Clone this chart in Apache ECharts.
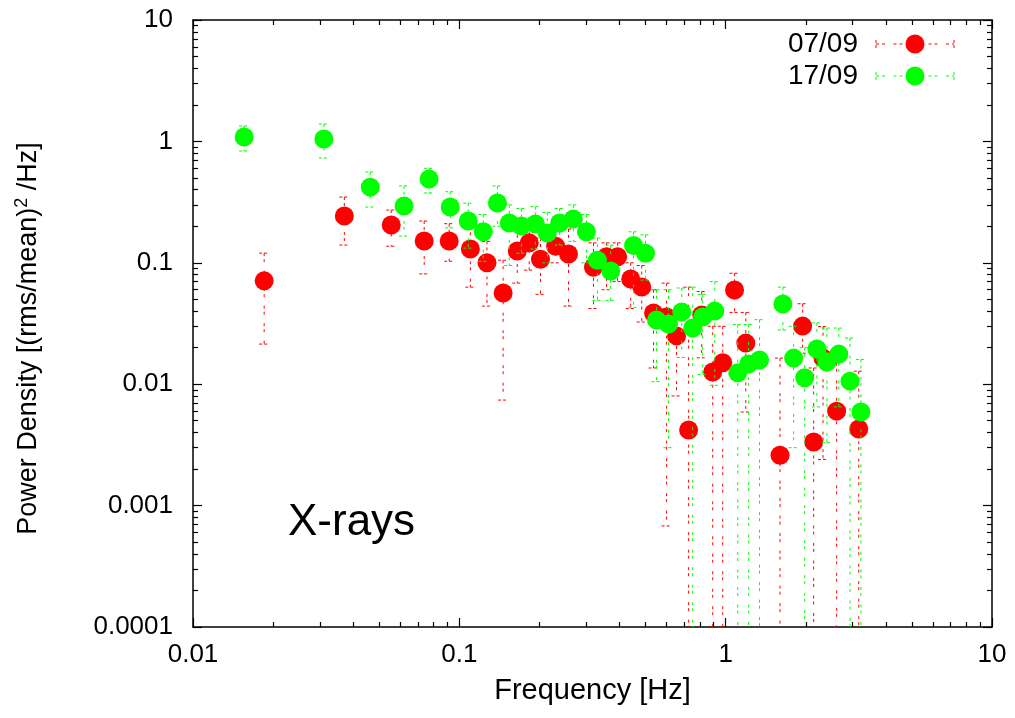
<!DOCTYPE html>
<html>
<head>
<meta charset="utf-8">
<script src="https://cdn.jsdelivr.net/npm/echarts@6/dist/echarts.min.js"></script>
<style>html,body{margin:0;padding:0;background:#fff}#c{width:1015px;height:718px}</style>
</head>
<body>
<div id="c"></div>
<script>
// ---- data ----
const seriesNames = ['07/09', '17/09'];

// 07/09 (red)
const redFreq = [0.0185, 0.037, 0.0555, 0.0738, 0.0916, 0.11, 0.127, 0.146, 0.165, 0.183, 0.2017, 0.23, 0.257, 0.319, 0.357, 0.393, 0.44, 0.484, 0.536, 0.6, 0.654, 0.726, 0.813, 0.894, 0.975, 1.08, 1.19, 1.6, 1.945, 2.14, 2.32, 2.61, 3.16];
const redPow  = [0.071, 0.243, 0.205, 0.151, 0.151, 0.13, 0.1, 0.0564, 0.125, 0.146, 0.107, 0.137, 0.118, 0.092, 0.112, 0.112, 0.0736, 0.0633, 0.0386, 0.0358, 0.025, 0.0042, 0.0371, 0.0126, 0.015, 0.0597, 0.0218, 0.0026, 0.0301, 0.00334, 0.0164, 0.006, 0.00428];
const redLo   = [0.0214, 0.14, 0.137, 0.081, 0.103, 0.063, 0.044, 0.0074, 0.068, 0.087, 0.055, 0.1, 0.044, 0.042, 0.06, 0.07, 0.042, 0.0325, 0.0136, 0.00068, 0.008, 0, 0.0165, 0, 0, 0.039, 0.0059, 0, 0.018, 0, 0.0024, 0, 0];
const redHi   = [0.12, 0.348, 0.272, 0.221, 0.21, 0.2, 0.15, 0.105, 0.19, 0.2, 0.16, 0.19, 0.19, 0.146, 0.146, 0.146, 0.1, 0.095, 0.06, 0.068, 0.04, 0.063, 0.058, 0.03, 0.03, 0.082, 0.039, 0.0164, 0.046, 0.0136, 0.0298, 0.015, 0.0128];

// 17/09 (green)
const greenFreq = [0.01556, 0.031, 0.0463, 0.062, 0.077, 0.0924, 0.108, 0.123, 0.139, 0.154, 0.171, 0.193, 0.214, 0.238, 0.268, 0.3, 0.33, 0.37, 0.451, 0.5, 0.55, 0.61, 0.684, 0.752, 0.82, 0.91, 1.11, 1.22, 1.34, 1.64, 1.8, 1.98, 2.2, 2.4, 2.66, 2.93, 3.22];
const greenPow  = [1.087, 1.047, 0.42, 0.294, 0.49, 0.288, 0.221, 0.18, 0.311, 0.213, 0.201, 0.209, 0.176, 0.213, 0.23, 0.18, 0.105, 0.0855, 0.139, 0.12, 0.0338, 0.0313, 0.0394, 0.029, 0.0358, 0.04, 0.0124, 0.0147, 0.0158, 0.0458, 0.0164, 0.0113, 0.0195, 0.0152, 0.0177, 0.0106, 0.0059];
const greenLo   = [0.834, 0.73, 0.288, 0.166, 0.376, 0.194, 0.132, 0.103, 0.2, 0.095, 0.12, 0.13, 0.1, 0.14, 0.15, 0.1, 0.049, 0.049, 0.043, 0.072, 0.0105, 0.003, 0.0166, 0, 0.012, 0.0098, 0, 0, 0, 0.028, 0.003, 0, 0.0065, 0.0033, 0.0065, 0, 0];
const greenHi   = [1.34, 1.39, 0.56, 0.43, 0.6, 0.385, 0.31, 0.25, 0.43, 0.3, 0.28, 0.29, 0.26, 0.28, 0.3, 0.25, 0.16, 0.14, 0.18, 0.17, 0.06, 0.06, 0.062, 0.063, 0.055, 0.07, 0.031, 0.031, 0.034, 0.063, 0.03, 0.02, 0.032, 0.029, 0.029, 0.024, 0.016];

// axes
const xMin = 0.01, xMax = 10;
const yMin = 0.0001, yMax = 10;
const xMajorTicks = [0.01, 0.1, 1, 10];
const yMajorTicks = [0.0001, 0.001, 0.01, 0.1, 1, 10];
const xTitle = 'Frequency [Hz]';
const yTitle = 'Power Density [(rms/mean){sup|2} /Hz]';
const panelLabel = 'X-rays';

function minorTicks(majors) {
  const out = [];
  for (let i = 0; i < majors.length - 1; i++) {
    for (let k = 2; k <= 9; k++) out.push(+(majors[i] * k).toPrecision(6));
  }
  return out;
}
const xMinorTicks = minorTicks(xMajorTicks);
const yMinorTicks = minorTicks(yMajorTicks);

const FONT = 'Liberation Sans';
const RED = '#ff0000', GREEN = '#00ff00';
const DASH = [3, 3, 3, 8.5];

function zip4(a, b, c, d) { return a.map((v, i) => [v, b[i], c[i], d[i]]); }
function zip2(a, b) { return a.map((v, i) => [v, b[i]]); }

function errRender(color) {
  return function (params, api) {
    const x = api.value(0), lo = api.value(2), hi = api.value(3);
    const top = api.coord([x, hi]);
    const bot = api.coord([x, lo > 0 ? lo : yMin]);
    const ch = [{
      type: 'line', shape: { x1: top[0], y1: top[1], x2: bot[0], y2: bot[1] },
      style: { stroke: color, lineWidth: 1, lineDash: DASH }
    }, {
      type: 'line', shape: { x1: top[0] - 5, y1: top[1], x2: top[0] + 5, y2: top[1] },
      style: { stroke: color, lineWidth: 1, lineDash: [3, 2] }
    }];
    if (lo > 0) ch.push({
      type: 'line', shape: { x1: bot[0] - 5, y1: bot[1], x2: bot[0] + 5, y2: bot[1] },
      style: { stroke: color, lineWidth: 1, lineDash: [3, 2] }
    });
    return { type: 'group', children: ch };
  };
}

const axLine = { show: true, lineStyle: { color: '#000', width: 1.5 } };
const lbl = { color: '#000', fontSize: 26, fontFamily: FONT };

function xAx(pos, major, showLbl) {
  return {
    type: 'log', logBase: 10, min: xMin, max: xMax, position: pos,
    axisLine: major ? axLine : { show: false },
    axisTick: { show: true, inside: true, length: major ? 9 : 5, customValues: major ? xMajorTicks : xMinorTicks, lineStyle: { color: '#000', width: 1.2 } },
    axisLabel: showLbl ? Object.assign({ margin: 15, customValues: xMajorTicks, formatter: v => String(+(+v).toPrecision(6)) }, lbl) : { show: false },
    splitLine: { show: false },
    name: showLbl ? xTitle : '', nameLocation: 'middle', nameGap: 49,
    nameTextStyle: { color: '#000', fontSize: 29, fontFamily: FONT }
  };
}
function yAx(pos, major, showLbl) {
  return {
    type: 'log', logBase: 10, min: yMin, max: yMax, position: pos,
    axisLine: major ? axLine : { show: false },
    axisTick: { show: true, inside: true, length: major ? 9 : 5, customValues: major ? yMajorTicks : yMinorTicks, lineStyle: { color: '#000', width: 1.2 } },
    axisLabel: showLbl ? Object.assign({ margin: 20, customValues: yMajorTicks, formatter: v => String(+(+v).toPrecision(6)) }, lbl) : { show: false },
    splitLine: { show: false },
    name: showLbl ? yTitle : '', nameLocation: 'middle', nameGap: 148,
    nameTextStyle: { color: '#000', fontSize: 27, fontFamily: FONT, padding: [0, 30, 0, 0],
      rich: { sup: { fontSize: 18, fontFamily: FONT, color: '#000', verticalAlign: 'top', padding: [0, 0, 14, 0] } } }
  };
}

const chart = echarts.init(document.getElementById('c'), null, { renderer: 'canvas' });

const legendY = [44, 76];
const legendColors = [RED, GREEN];
const graphics = [];
legendY.forEach((y, i) => {
  graphics.push({ type: 'text', x: 858, y: y, style: { text: seriesNames[i], fill: '#000', font: '28px "' + FONT + '"', textAlign: 'right', textVerticalAlign: 'middle' } });
  graphics.push({ type: 'line', shape: { x1: 876, y1: y, x2: 954, y2: y }, style: { stroke: legendColors[i], lineWidth: 1, lineDash: [3, 3, 3, 8.5] } });
  graphics.push({ type: 'line', shape: { x1: 876, y1: y - 4, x2: 876, y2: y + 4 }, style: { stroke: legendColors[i], lineWidth: 1, lineDash: [3, 2] } });
  graphics.push({ type: 'line', shape: { x1: 954, y1: y - 4, x2: 954, y2: y + 4 }, style: { stroke: legendColors[i], lineWidth: 1, lineDash: [3, 2] } });
  graphics.push({ type: 'circle', shape: { cx: 915, cy: y, r: 9.5 }, style: { fill: legendColors[i] } });
});
graphics.push({ type: 'text', x: 288, y: 523, style: { text: panelLabel, fill: '#000', font: '44px "' + FONT + '"', textAlign: 'left', textVerticalAlign: 'middle' } });

chart.setOption({
  animation: false,
  backgroundColor: '#fff',
  grid: { left: 193, right: 23, top: 20, bottom: 91, containLabel: false },
  xAxis: [xAx('bottom', true, true), xAx('bottom', false, false), xAx('top', true, false), xAx('top', false, false)],
  yAxis: [yAx('left', true, true), yAx('left', false, false), yAx('right', true, false), yAx('right', false, false)],
  series: [
    { type: 'custom', name: seriesNames[0] + ' err', xAxisIndex: 0, yAxisIndex: 0, z: 1, renderItem: errRender(RED), data: zip4(redFreq, redPow, redLo, redHi), encode: { x: 0, y: 1 }, clip: true },
    { type: 'scatter', name: seriesNames[0], xAxisIndex: 0, yAxisIndex: 0, z: 2, symbol: 'circle', symbolSize: 19, itemStyle: { color: RED, opacity: 1 }, data: zip2(redFreq, redPow) },
    { type: 'custom', name: seriesNames[1] + ' err', xAxisIndex: 0, yAxisIndex: 0, z: 3, renderItem: errRender(GREEN), data: zip4(greenFreq, greenPow, greenLo, greenHi), encode: { x: 0, y: 1 }, clip: true },
    { type: 'scatter', name: seriesNames[1], xAxisIndex: 0, yAxisIndex: 0, z: 4, symbol: 'circle', symbolSize: 19, itemStyle: { color: GREEN, opacity: 1 }, data: zip2(greenFreq, greenPow) }
  ],
  graphic: graphics
});
</script>
</body>
</html>
